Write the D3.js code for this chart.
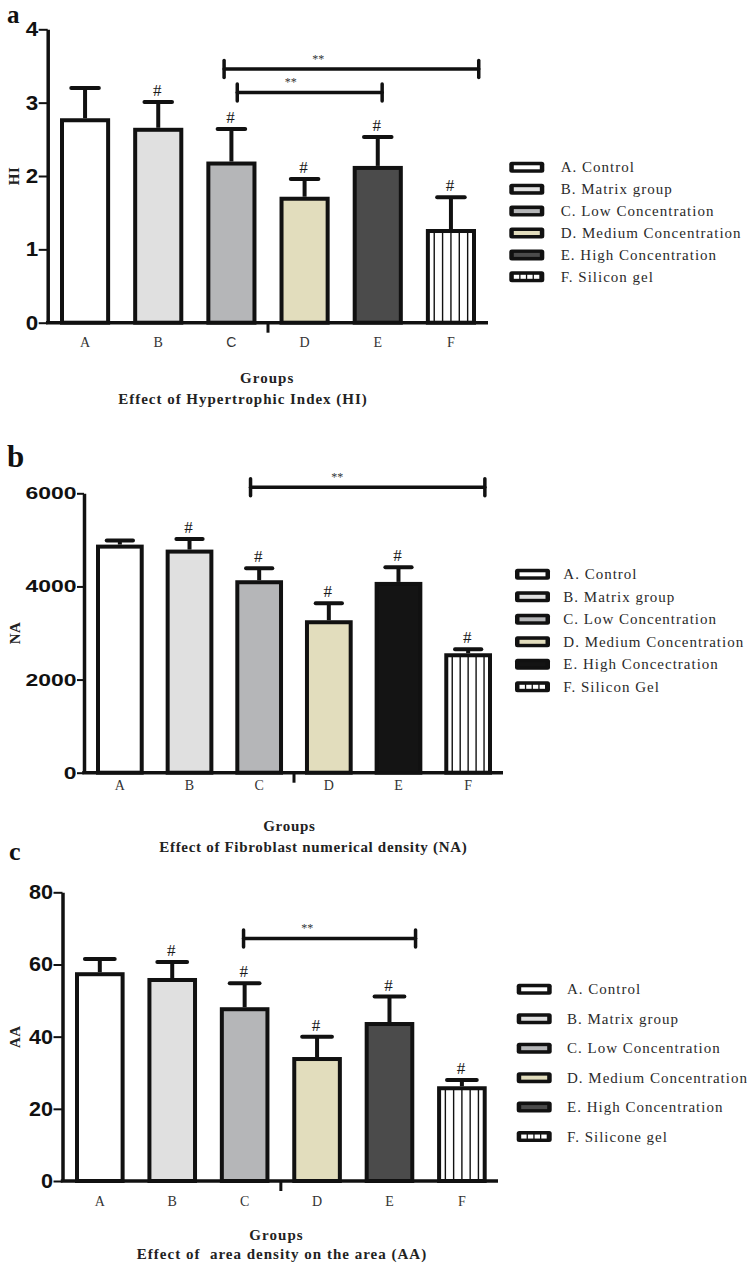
<!DOCTYPE html>
<html><head><meta charset="utf-8">
<script src="https://cdn.jsdelivr.net/npm/d3@7"></script>
<style>body{margin:0;background:#fff}svg{display:block}</style>
</head><body><svg id="chart" width="747" height="1269"></svg>
<script>
// ---------- DATA ----------
const categories = ["A", "B", "C", "D", "E", "F"];
const hashMarks = [false, true, true, true, true, true];

const hiMean  = [2.76, 2.63, 2.17, 1.69, 2.11, 1.25];
const hiUpper = [3.20, 3.01, 2.64, 1.96, 2.53, 1.71];
const hiTicks = [0, 1, 2, 3, 4];
const hiSigFrom = [1.90, 2.08];   // in category-index units (A = 0)
const hiSigTo   = [5.38, 4.06];
const hiSigY    = [3.46, 3.14];
const hiLegend = ["A. Control", "B. Matrix group", "C. Low Concentration", "D. Medium Concentration", "E. High Concentration", "F. Silicon gel"];

const naMean  = [4855, 4748, 4090, 3231, 4054, 2522];
const naUpper = [4984, 5020, 4391, 3639, 4412, 2651];
const naTicks = [0, 2000, 4000, 6000];
const naSigFrom = [1.876];
const naSigTo   = [5.24];
const naSigY    = [6131];
const naLegend = ["A. Control", "B. Matrix group", "C. Low Concentration", "D. Medium Concentration", "E. High Concectration", "F. Silicon Gel"];

const aaMean  = [57.3, 55.7, 47.6, 33.8, 43.5, 25.7];
const aaUpper = [61.5, 60.7, 54.8, 40.0, 51.1, 28.0];
const aaTicks = [0, 20, 40, 60, 80];
const aaSigFrom = [1.985];
const aaSigTo   = [4.36];
const aaSigY    = [67.2];
const aaLegend = ["A. Control", "B. Matrix group", "C. Low Concentration", "D. Medium Concentration", "E. High Concentration", "F. Silicone gel"];

// ---------- STYLE / LAYOUT ----------
const SERIF = "'Liberation Serif','Times New Roman',serif";
const SANS = "'Liberation Sans',Arial,sans-serif";
const fillsGray = ["#ffffff", "#e0e0e0", "#b5b6b8", "#e2ddbd", "#4b4b4b", "stripes"];
const fillsBlack = ["#ffffff", "#e0e0e0", "#b5b6b8", "#e2ddbd", "#141414", "stripes"];

const svg = d3.select("#chart");
svg.append("rect").attr("width", 747).attr("height", 1269).attr("fill", "#fff");

const panels = [
  { letter: "a", letterX: 7, letterY: 22.5, letterSize: 25,
    mean: hiMean, upper: hiUpper, ticks: hiTicks, sigFrom: hiSigFrom, sigTo: hiSigTo, sigY: hiSigY,
    legend: hiLegend, fills: fillsGray, yTitle: "HI", yTitleX: 18.5,
    axisX0: 47.7, axisX1: 488, y0: 322.7, y1: 29.3, barL: 60, barR: 476,
    tickSize: 9, tickFont: 20, tickScale: 1.12, capFrac: 0.55,
    labelBase: 347, sansLabel: "C",
    groupsX: 266.7, groupsY: 383, groupsW: 53.3,
    title: "Effect of Hypertrophic Index (HI)", titleX: 242.5, titleY: 404, titleW: 248.4,
    legSwX: 509.3, legTextX: 560.7, legY0: 167.3, legStep: 21.9 },
  { letter: "b", letterX: 7, letterY: 466.5, letterSize: 31,
    mean: naMean, upper: naUpper, ticks: naTicks, sigFrom: naSigFrom, sigTo: naSigTo, sigY: naSigY,
    legend: naLegend, fills: fillsBlack, yTitle: "NA", yTitleX: 20,
    axisX0: 84, axisX1: 503, y0: 772.7, y1: 493.3, barL: 96, barR: 492,
    tickSize: 7, tickFont: 17, tickScale: 1.35, capFrac: 0.55,
    labelBase: 790, sansLabel: null,
    groupsX: 289, groupsY: 830.5, groupsW: 51.7,
    title: "Effect of Fibroblast numerical density (NA)", titleX: 313, titleY: 851.5, titleW: 307.4,
    legSwX: 515, legTextX: 563.3, legY0: 574.3, legStep: 22.5 },
  { letter: "c", letterX: 9, letterY: 860, letterSize: 26,
    mean: aaMean, upper: aaUpper, ticks: aaTicks, sigFrom: aaSigFrom, sigTo: aaSigTo, sigY: aaSigY,
    legend: aaLegend, fills: fillsGray, yTitle: "AA", yTitleX: 20,
    axisX0: 62.5, axisX1: 498, y0: 1181, y1: 892.3, barL: 75, barR: 486.7,
    tickSize: 9, tickFont: 20, tickScale: 1.08, capFrac: 0.6,
    labelBase: 1206, sansLabel: null,
    groupsX: 276, groupsY: 1240, groupsW: 53.3,
    title: "Effect of  area density on the area (AA)", titleX: 281.5, titleY: 1259, titleW: 289.3,
    legSwX: 516.7, legTextX: 567, legY0: 989.3, legStep: 29.45 }
];

function drawPanel(p) {
  const g = svg.append("g");
  const x = d3.scaleBand().domain(categories).range([p.barL, p.barR]).paddingInner(0.315).paddingOuter(0);
  const y = d3.scaleLinear().domain([0, d3.max(p.ticks)]).range([p.y0, p.y1]);
  const bw = x.bandwidth(), step = x.step();
  const idx = d3.scaleLinear().domain([0, 1]).range([x(categories[0]) + bw / 2, x(categories[0]) + bw / 2 + step]);
  const sw = 4;

  // bars
  categories.forEach((c, i) => {
    const x0 = x(c), top = y(p.mean[i]);
    const f = p.fills[i];
    g.append("rect").attr("x", x0 + sw / 2).attr("y", top).attr("width", bw - sw).attr("height", p.y0 - top)
      .attr("fill", f === "stripes" ? "#fff" : f);
    if (f === "stripes") {
      d3.range(1, 6).forEach(k => {
        g.append("line").attr("x1", x0 + k * bw / 6).attr("x2", x0 + k * bw / 6)
          .attr("y1", top).attr("y2", p.y0).attr("stroke", "#111").attr("stroke-width", 1.4);
      });
    }
    g.append("rect").attr("x", x0 + sw / 2).attr("y", top).attr("width", bw - sw).attr("height", p.y0 - top)
      .attr("fill", "none").attr("stroke", "#111").attr("stroke-width", sw);
    // error bar
    const cx = x0 + bw / 2, ey = y(p.upper[i]), cw = bw * p.capFrac;
    g.append("line").attr("x1", cx).attr("x2", cx).attr("y1", top - sw / 2).attr("y2", ey)
      .attr("stroke", "#111").attr("stroke-width", 4);
    g.append("line").attr("x1", cx - cw / 2).attr("x2", cx + cw / 2).attr("y1", ey).attr("y2", ey)
      .attr("stroke", "#111").attr("stroke-width", 4).attr("stroke-linecap", "round");
    if (hashMarks[i]) {
      g.append("text").attr("x", cx - 1).attr("y", ey - 6).attr("text-anchor", "middle")
        .attr("font-family", SERIF).attr("font-size", 17).attr("fill", "#1a1a1a").text("#");
    }
  });

  // significance brackets
  p.sigY.forEach((v, j) => {
    const x1 = idx(p.sigFrom[j]), x2 = idx(p.sigTo[j]), yy = y(v);
    const bg = g.append("g").attr("stroke", "#111").attr("stroke-width", 3.5).attr("stroke-linecap", "round");
    bg.append("line").attr("x1", x1).attr("x2", x2).attr("y1", yy).attr("y2", yy);
    bg.append("line").attr("x1", x1).attr("x2", x1).attr("y1", yy - 8.5).attr("y2", yy + 8.5);
    bg.append("line").attr("x1", x2).attr("x2", x2).attr("y1", yy - 8.5).attr("y2", yy + 8.5);
    g.append("text").attr("x", x1 + 0.37 * (x2 - x1)).attr("y", yy - 6).attr("text-anchor", "middle")
      .attr("font-family", SERIF).attr("font-size", 12).attr("fill", "#333").text("**");
  });

  // y axis
  const ya = g.append("g").attr("transform", `translate(${p.axisX0},0)`)
    .call(d3.axisLeft(y).tickValues(p.ticks).tickSize(p.tickSize).tickSizeOuter(0).tickPadding(1).tickFormat(d3.format("d")));
  ya.select(".domain").attr("stroke", "#111").attr("stroke-width", 3.5);
  ya.selectAll(".tick line").attr("stroke", "#111").attr("stroke-width", 2);
  ya.selectAll(".tick text")
    .attr("font-family", SANS).attr("font-weight", "bold").attr("font-size", p.tickFont).attr("fill", "#111")
    .attr("x", -(p.tickSize + 0.5) / p.tickScale).attr("transform", `scale(${p.tickScale},1)`);

  // x axis
  const xa = g.append("g").attr("transform", `translate(0,${p.y0})`)
    .call(d3.axisBottom(x).tickSize(0).tickSizeOuter(0));
  xa.select(".domain").remove();
  xa.selectAll(".tick text")
    .attr("y", p.labelBase - p.y0).attr("dy", 0)
    .attr("font-family", d => d === p.sansLabel ? SANS : SERIF)
    .attr("font-size", 14).attr("fill", "#333");
  g.append("line").attr("x1", p.axisX0 - 1.75).attr("x2", p.axisX1).attr("y1", p.y0).attr("y2", p.y0)
    .attr("stroke", "#111").attr("stroke-width", 3.5);
  const midX = (x("C") + bw + x("D")) / 2;
  g.append("line").attr("x1", midX).attr("x2", midX).attr("y1", p.y0).attr("y2", p.y0 + 10)
    .attr("stroke", "#111").attr("stroke-width", 3);

  // y title
  g.append("text").attr("transform", `translate(${p.yTitleX},${(p.y0 + p.y1) / 2}) rotate(-90)`)
    .attr("text-anchor", "middle").attr("font-family", SERIF).attr("font-weight", "bold")
    .attr("font-size", 15).attr("letter-spacing", 0.5).attr("fill", "#222").text(p.yTitle);

  // groups + title
  g.append("text").attr("x", p.groupsX).attr("y", p.groupsY).attr("text-anchor", "middle")
    .attr("font-family", SERIF).attr("font-weight", "bold").attr("font-size", 15).attr("fill", "#222")
    .attr("textLength", p.groupsW).attr("lengthAdjust", "spacing").text("Groups");
  g.append("text").attr("x", p.titleX).attr("y", p.titleY).attr("text-anchor", "middle")
    .attr("font-family", SERIF).attr("font-weight", "bold").attr("font-size", 15).attr("fill", "#222")
    .style("white-space", "pre")
    .attr("textLength", p.titleW).attr("lengthAdjust", "spacing").text(p.title);

  // panel letter
  g.append("text").attr("x", p.letterX).attr("y", p.letterY).attr("font-family", SERIF)
    .attr("font-weight", "bold").attr("font-size", p.letterSize).attr("fill", "#111").text(p.letter);

  // legend
  p.legend.forEach((lab, i) => {
    const cy = p.legY0 + i * p.legStep;
    const f = p.fills[i];
    g.append("rect").attr("x", p.legSwX).attr("y", cy - 5.5).attr("width", 35).attr("height", 11)
      .attr("rx", 2.5).attr("fill", "#111");
    if (f === "stripes") {
      d3.range(4).forEach(k => {
        g.append("rect").attr("x", p.legSwX + 4.5 + k * 6.7).attr("y", cy - 2).attr("width", 5.4).attr("height", 4)
          .attr("fill", "#fff");
      });
    } else {
      g.append("rect").attr("x", p.legSwX + 4.5).attr("y", cy - 2).attr("width", 26).attr("height", 4).attr("fill", f);
    }
    g.append("text").attr("x", p.legTextX).attr("y", cy + 5).attr("font-family", SERIF)
      .attr("font-size", 15).attr("letter-spacing", 1).attr("fill", "#2a2a2a").text(lab);
  });
}

panels.forEach(drawPanel);
</script>
</body></html>
